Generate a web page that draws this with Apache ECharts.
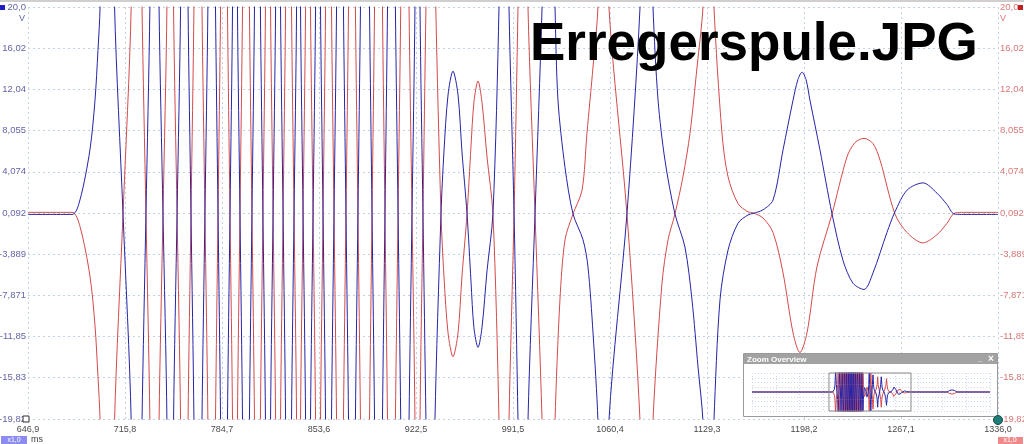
<!DOCTYPE html>
<html>
<head>
<meta charset="utf-8">
<script src="https://cdn.jsdelivr.net/npm/echarts@6.0.0/dist/echarts.min.js"></script>
<style>
html,body{margin:0;padding:0;background:#fff;}
#c{width:1024px;height:444px;}
</style>
</head>
<body>
<div id="c"></div>
<script>
// ---- tick labels ----
const xTickValues = [646.9, 715.8, 784.7, 853.6, 922.5, 991.5, 1060.4, 1129.3, 1198.2, 1267.1, 1336.0];
const xTickLabels = ['646,9','715,8','784,7','853,6','922,5','991,5','1060,4','1129,3','1198,2','1267,1','1336,0'];
const yTickValues = [-19.82, -15.83, -11.85, -7.871, -3.889, 0.092, 4.074, 8.055, 12.04, 16.02, 20.0];
const yTickLabels = ['-19,82','-15,83','-11,85','-7,871','-3,889','0,092','4,074','8,055','12,04','16,02','20,0'];
const viewRange = [646.9, 1336.0];

// ---- channel A (blue) [ms, V] ----
const blueVolts = [
[646.9,-0.05],[678.2,-0.05],[683.8,1.35],[690.9,6.2],[694.5,11.0],[696.6,15.8],[698.1,20],
[703.0,60],
[708.4,20],[714.4,0],[720.2,-20],[724.0,-60],
[727.9,-20],[730.7,0],[733.5,20],[736.8,60],
[740.0,20],[742.8,0],[745.6,-20],[748.0,-60],
[750.3,-20],[752.8,0],[755.3,20],[757.9,60],
[760.6,20],[762.7,0],[764.8,-20],[767.6,-60],
[770.5,-20],[772.6,0],[774.7,20],[777.4,60],
[780.1,20],[781.9,0],[783.7,-20],[786.2,-60],
[788.6,-20],[790.4,0],[792.2,20],[794.0,60],
[795.7,20],[797.5,0],[799.3,-20],[801.8,-60],
[804.2,-20],[806.0,0],[807.8,20],[809.9,60],
[812.0,20],[813.8,0],[815.6,-20],[817.4,-60],
[819.2,-20],[821.0,0],[822.8,20],[824.6,60],
[826.3,20],[828.1,0],[829.9,-20],[832.0,-60],
[834.1,-20],[835.9,0],[837.7,20],[839.1,60],
[840.5,20],[842.3,0],[844.1,-20],[845.9,-60],
[847.6,-20],[849.4,0],[851.2,20],[853.0,60],
[854.7,20],[856.5,0],[858.3,-20],[860.4,-60],
[862.5,-20],[864.3,0],[866.1,20],[868.5,60],
[871.0,20],[872.8,0],[874.6,-20],[877.1,-60],
[879.5,-20],[881.3,0],[883.1,20],[886.3,60],
[889.5,20],[891.3,0],[893.1,-20],[895.9,-60],
[898.7,-20],[900.5,0],[902.3,20],[905.1,60],
[907.9,20],[909.8,0],[911.7,-20],[914.6,-60],
[917.6,-20],[919.7,0],[921.8,20],[923.6,60],
[925.4,20],[927.5,0],[929.6,-20],[932.8,-50],
[936.0,-20],[940.3,0],[942.4,6],[945.3,11.5],[948.8,13.8],[952.4,11.5],[955.2,6],[958.8,0],
[961.6,-6.5],[963.7,-11],[966.6,-12.9],[969.4,-11],[973.0,-5.5],[977.2,0],[981.5,20],
[985.0,50],
[988.6,20],[992.2,0],[995.0,-20],[998.5,-50],
[1002.1,-20],[1007.1,0],[1012.1,20],[1016.7,45],
[1021.3,20],[1023.4,11],[1028.4,4.5],[1034.1,0],[1041.2,-2.5],[1044.7,-5.1],[1048.3,-11.5],[1051.8,-20],
[1055.7,-40],
[1059.6,-20],[1072.4,0],[1081.7,20],[1086.3,40],
[1090.9,20],[1094.5,11],[1099.4,5.2],[1106.5,0],[1113.6,-3.2],[1118.6,-8.3],[1122.9,-14.8],[1126.4,-20],
[1130.3,-35],
[1134.2,-20],[1138.5,-8.3],[1144.2,-3.5],[1151.3,-0.9],[1158.4,-0.1],[1162.0,0.05],
[1169.1,0.4],[1176.2,1.35],[1183.3,6.2],[1190.4,11.0],[1193.9,13.0],[1196.8,13.7],[1199.6,13.0],[1202.4,11.0],[1209.5,6.2],[1218.1,0],
[1225.9,-4.5],[1233.0,-6.7],[1240.8,-7.3],[1247.2,-5.7],[1257.1,-1.8],[1262.8,0.2],
[1271.4,2.3],[1282.7,3.0],[1292.7,2.0],[1299.8,0.9],[1304.7,0],[1310.0,-0.05],[1336.0,-0.05]
];

// ---- channel B (red) [ms, V] ----
const redVolts = [
[646.9,0.15],[678.2,0.15],[683.8,-1.2],[690.9,-6.0],[694.5,-10.8],[696.6,-15.7],[698.1,-20],
[703.0,-60],
[708.4,-20],[714.4,0],[720.2,20],[724.0,60],
[727.9,20],[730.7,0],[733.5,-20],[736.8,-60],
[740.0,-20],[742.8,0],[745.6,20],[748.0,60],
[750.3,20],[752.8,0],[755.3,-20],[757.9,-60],
[760.6,-20],[762.7,0],[764.8,20],[767.6,60],
[770.5,20],[772.6,0],[774.7,-20],[777.4,-60],
[780.1,-20],[781.9,0],[783.7,20],[786.2,60],
[788.6,20],[790.4,0],[792.2,-20],[794.0,-60],
[795.7,-20],[797.5,0],[799.3,20],[801.8,60],
[804.2,20],[806.0,0],[807.8,-20],[809.9,-60],
[812.0,-20],[813.8,0],[815.6,20],[817.4,60],
[819.2,20],[821.0,0],[822.8,-20],[824.6,-60],
[826.3,-20],[828.1,0],[829.9,20],[832.0,60],
[834.1,20],[835.9,0],[837.7,-20],[839.1,-60],
[840.5,-20],[842.3,0],[844.1,20],[845.9,60],
[847.6,20],[849.4,0],[851.2,-20],[853.0,-60],
[854.7,-20],[856.5,0],[858.3,20],[860.4,60],
[862.5,20],[864.3,0],[866.1,-20],[868.5,-60],
[871.0,-20],[872.8,0],[874.6,20],[877.1,60],
[879.5,20],[881.3,0],[883.1,-20],[886.3,-60],
[889.5,-20],[891.3,0],[893.1,20],[895.9,60],
[898.7,20],[900.5,0],[902.3,-20],[905.1,-60],
[907.9,-20],[909.8,0],[911.7,20],[914.6,60],
[917.6,20],[919.7,0],[921.8,-20],[923.6,-60],
[925.4,-20],[927.5,0],[929.6,20],[932.8,50],
[936.6,20],[940.3,0],[942.4,-6],[945.3,-11.5],[948.8,-13.8],[952.4,-11.5],[955.2,-6],[958.8,0],
[961.6,6.5],[963.7,10.8],[966.6,12.85],[969.4,10.8],[973.0,5.5],[977.2,0],[981.5,-20],
[985.0,-50],
[988.6,-20],[992.2,0],[995.0,20],[998.5,50],
[1002.1,20],[1007.1,0],[1012.1,-20],[1016.7,-45],
[1021.3,-20],[1024.8,-8.3],[1028.4,-2.5],[1034.1,0],[1040.5,2.3],[1044.0,7.8],[1048.3,14.2],[1051.8,20],
[1055.7,40],
[1059.6,20],[1072.4,0],[1081.7,-20],[1086.3,-40],
[1090.9,-20],[1097.3,-6.7],[1101.6,-2.5],[1106.5,0],[1112.2,3.6],[1117.2,7.8],[1122.2,14.2],[1126.4,20],
[1130.3,35],
[1134.2,20],[1139.9,7.8],[1144.2,3.6],[1151.3,1.0],[1158.4,0.2],[1162.0,0.1],
[1169.1,-0.4],[1176.2,-1.8],[1183.3,-5.7],[1190.4,-11.5],[1195.3,-13.4],[1200.3,-11.5],[1207.4,-5.1],[1218.1,0],
[1228.7,5.5],[1234.4,6.9],[1240.8,7.3],[1247.2,6.8],[1252.2,5.2],[1262.8,0],
[1271.4,-1.8],[1282.7,-2.8],[1292.7,-2.0],[1299.8,-0.9],[1304.7,0.05],[1310.0,0.15],[1336.0,0.15]
];

// ---- overview extras (outside the zoomed window) ----
const blueLead = [[0,-0.05],[646.9,-0.05]];
const blueTail = [[1336.0,-0.05],[1639,-0.05],[1660,4],[1681,5.5],[1702,4],[1723,-0.05],[2000,-0.05]];
const redLead = [[0,0.15],[646.9,0.15]];
const redTail = [[1336.0,0.15],[1639,0.15],[1660,-4],[1681,-5.5],[1702,-4],[1723,0.15],[2000,0.15]];

const BLUE = '#2424a8';
const RED = '#d44a4a';

function labeler(vals, labs) {
  return function (v) {
    for (let i = 0; i < vals.length; i++) {
      if (Math.abs(v - vals[i]) < 1e-3) return labs[i];
    }
    return '';
  };
}

const chart = echarts.init(document.getElementById('c'), null, {renderer: 'canvas'});
const gridLine = {show: true, lineStyle: {color: '#c3d2e2', width: 1, type: [2, 3]}};
const ovLine = {show: true, lineStyle: {color: '#cdd8f0', width: 1, type: [1, 2]}};

chart.setOption({
  animation: false,
  backgroundColor: '#ffffff',
  grid: [
    {left: 28, right: 26, top: 7, bottom: 25, containLabel: false, outerBoundsMode: 'none'},
    {left: 752, top: 373, width: 238, height: 38, containLabel: false, outerBoundsMode: 'none'}
  ],
  xAxis: [
    {
      type: 'value', gridIndex: 0, min: viewRange[0], max: viewRange[1],
      axisLine: {show: false},
      axisTick: {show: false, customValues: xTickValues},
      axisLabel: {customValues: xTickValues, formatter: labeler(xTickValues, xTickLabels),
        color: '#4a4a4a', fontSize: 9, fontFamily: 'Liberation Sans', margin: 6},
      splitLine: gridLine
    },
    {
      type: 'value', gridIndex: 1, min: 0, max: 2000, interval: 200, z: 4,
      axisLine: {show: false}, axisTick: {show: false}, axisLabel: {show: false},
      splitLine: ovLine
    }
  ],
  yAxis: [
    {
      type: 'value', gridIndex: 0, position: 'left', min: -19.82, max: 20.0,
      axisLine: {show: false},
      axisTick: {show: false, customValues: yTickValues},
      axisLabel: {customValues: yTickValues, formatter: labeler(yTickValues, yTickLabels),
        color: '#6464a8', fontSize: 9.5, fontFamily: 'Liberation Sans', margin: 2},
      splitLine: gridLine
    },
    {
      type: 'value', gridIndex: 0, position: 'right', min: -19.82, max: 20.0,
      axisLine: {show: false},
      axisTick: {show: false, customValues: yTickValues},
      axisLabel: {customValues: yTickValues, formatter: labeler(yTickValues, yTickLabels),
        color: '#d87878', fontSize: 9.5, fontFamily: 'Liberation Sans', margin: 2},
      splitLine: {show: false}
    },
    {
      type: 'value', gridIndex: 1, min: -50, max: 50, interval: 12.5, z: 4,
      axisLine: {show: false}, axisTick: {show: false}, axisLabel: {show: false},
      splitLine: ovLine
    }
  ],
  series: [
    {type: 'line', name: 'B', xAxisIndex: 0, yAxisIndex: 0, data: redVolts, showSymbol: false,
      smooth: 0.3, lineStyle: {color: RED, width: 1}, clip: true, z: 2},
    {type: 'line', name: 'A', xAxisIndex: 0, yAxisIndex: 0, data: blueVolts, showSymbol: false,
      smooth: 0.3, lineStyle: {color: BLUE, width: 1}, clip: true, z: 2},
    {type: 'line', name: 'B overview', xAxisIndex: 1, yAxisIndex: 2,
      data: redLead.concat(redVolts, redTail), showSymbol: false,
      lineStyle: {color: RED, width: 1}, clip: true, z: 5},
    {type: 'line', name: 'A overview', xAxisIndex: 1, yAxisIndex: 2,
      data: blueLead.concat(blueVolts, blueTail), showSymbol: false,
      lineStyle: {color: BLUE, width: 1}, clip: true, z: 5,
      markArea: {silent: true, z: 6,
        itemStyle: {color: 'rgba(0,0,0,0)', borderColor: '#8a8a8a', borderWidth: 1},
        data: [[{xAxis: viewRange[0]}, {xAxis: viewRange[1]}]]}}
  ],
  graphic: [
    {type: 'rect', shape: {x: 0, y: 0, width: 1024, height: 2}, style: {fill: '#cfcfcf'}, z: 20},
    {type: 'rect', shape: {x: 0, y: 5, width: 5, height: 5}, style: {fill: '#2020c0'}, z: 20},
    {type: 'rect', shape: {x: 1018, y: 5, width: 5, height: 5}, style: {fill: '#c02020'}, z: 20},
    {type: 'text', style: {x: 25, y: 19, text: 'V', fill: '#6464a8', font: '9px "Liberation Sans"', align: 'right', verticalAlign: 'middle'}, z: 20},
    {type: 'text', style: {x: 1000, y: 19, text: 'V', fill: '#d87878', font: '9px "Liberation Sans"', align: 'left', verticalAlign: 'middle'}, z: 20},
    {type: 'rect', shape: {x: 23, y: 416, width: 6, height: 6}, style: {fill: '#ffffff', stroke: '#303030', lineWidth: 1}, z: 20},
    {type: 'circle', shape: {cx: 998, cy: 420, r: 4.5}, style: {fill: '#1f7f78', stroke: '#134c48', lineWidth: 1}, z: 20},
    {type: 'rect', shape: {x: 1, y: 436, width: 26, height: 8}, style: {fill: '#8c8cf0'}, z: 20},
    {type: 'text', style: {x: 14, y: 440, text: 'x1,0', fill: '#ffffff', font: '7px "Liberation Sans"', align: 'center', verticalAlign: 'middle'}, z: 21},
    {type: 'text', style: {x: 31, y: 440, text: 'ms', fill: '#404040', font: '9px "Liberation Sans"', align: 'left', verticalAlign: 'middle'}, z: 20},
    {type: 'rect', shape: {x: 998, y: 437, width: 25, height: 7}, style: {fill: '#f08a8a'}, z: 20},
    {type: 'text', style: {x: 1010, y: 440.5, text: 'x1,0', fill: '#ffffff', font: '7px "Liberation Sans"', align: 'center', verticalAlign: 'middle'}, z: 21},
    {type: 'text', style: {x: 530, y: 19, text: 'Erregerspule.JPG', fill: '#000000', font: 'bold 53px "Liberation Sans"', align: 'left', verticalAlign: 'top'}, z: 30},
    // overview window chrome
    {type: 'rect', shape: {x: 743.5, y: 353.5, width: 254, height: 63}, style: {fill: '#ffffff', stroke: '#9a9a9a', lineWidth: 1}, z: 3},
    {type: 'rect', shape: {x: 744, y: 354, width: 253, height: 10}, style: {fill: '#a2a2a2'}, z: 6},
    {type: 'text', style: {x: 747, y: 359.5, text: 'Zoom Overview', fill: '#ffffff', font: 'bold 8px "Liberation Sans"', align: 'left', verticalAlign: 'middle'}, z: 7},
    {type: 'text', style: {x: 980, y: 359, text: '_', fill: '#ffffff', font: 'bold 8px "Liberation Sans"', align: 'center', verticalAlign: 'middle'}, z: 7},
    {type: 'text', style: {x: 991, y: 359.5, text: '×', fill: '#ffffff', font: 'bold 10px "Liberation Sans"', align: 'center', verticalAlign: 'middle'}, z: 7}
  ]
});
</script>
</body>
</html>
